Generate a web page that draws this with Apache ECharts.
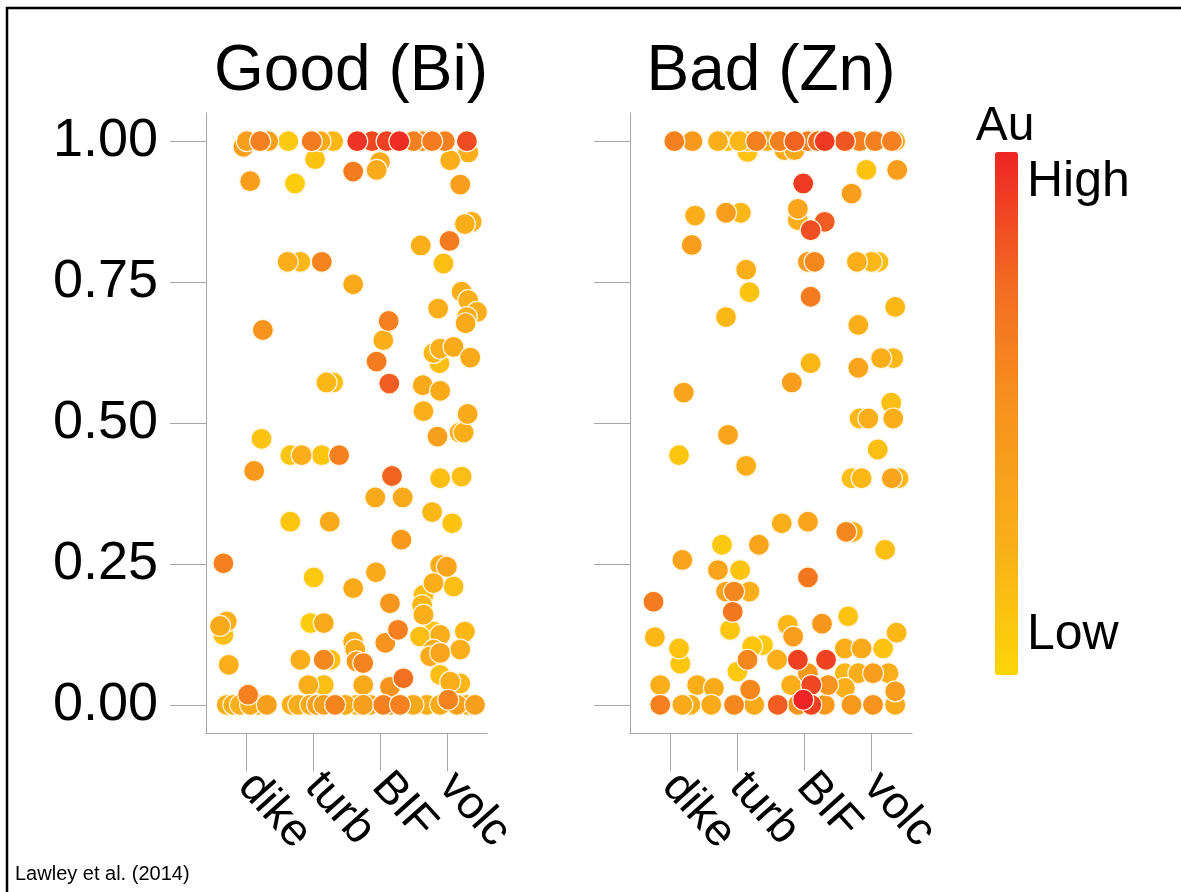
<!DOCTYPE html>
<html>
<head>
<meta charset="utf-8">
<script src="https://cdn.jsdelivr.net/npm/echarts@6/dist/echarts.min.js"></script>
<style>
html,body{margin:0;padding:0;background:#fff;}
#chart{width:1181px;height:892px;}
</style>
</head>
<body>
<div id="chart"></div>
<script>
// Categories (x positions 1..4 on the jittered strip axis)
var categories = ['dike', 'turb', 'BIF', 'volc'];
var yTicks = [0, 0.25, 0.5, 0.75, 1];
var panelTitles = ['Good (Bi)', 'Bad (Zn)'];

// Good (Bi) panel: [position on category axis (with jitter), ratio, Au level]
var goodBi = [
  [0.96,0.99,0.4],[1.01,1.0,0.4],[1.21,1.0,0.62],[1.33,1.0,0.4],[1.63,1.0,0.08],[1.98,1.0,0.65],
  [2.11,1.0,0.3],[2.30,1.0,0.2],[2.66,1.0,0.95],[2.88,1.0,0.88],[3.10,1.0,0.9],[3.29,1.0,0.97],
  [3.50,1.0,0.62],[3.63,1.0,0.5],[3.78,1.0,0.65],[3.97,1.0,0.62],[4.30,1.0,0.86],
  [4.32,0.98,0.25],[4.05,0.966,0.25],[3.0,0.963,0.3],[2.95,0.949,0.3],[2.60,0.946,0.65],
  [2.03,0.968,0.12],[1.06,0.929,0.42],[1.73,0.925,0.05],[4.20,0.923,0.42],
  [4.37,0.857,0.25],[4.27,0.853,0.25],[4.04,0.823,0.65],[3.61,0.815,0.25],[3.95,0.783,0.15],
  [1.62,0.786,0.25],[1.81,0.786,0.2],[2.13,0.786,0.6],[2.60,0.746,0.3],
  [4.22,0.733,0.25],[4.32,0.718,0.25],[4.45,0.697,0.25],[3.87,0.703,0.25],[4.30,0.688,0.25],
  [4.28,0.677,0.3],[3.13,0.681,0.62],[3.05,0.647,0.25],[1.25,0.665,0.5],[2.95,0.609,0.65],
  [3.14,0.570,0.8],[3.80,0.624,0.2],[3.90,0.632,0.25],[4.10,0.635,0.3],[4.35,0.616,0.3],
  [3.89,0.606,0.15],[2.20,0.572,0.2],[2.30,0.572,0.15],[3.64,0.567,0.3],[3.90,0.557,0.3],
  [3.65,0.521,0.25],[4.31,0.516,0.3],[3.86,0.476,0.4],[4.19,0.483,0.25],[4.25,0.483,0.25],
  [1.23,0.472,0.12],[1.12,0.415,0.45],[1.66,0.443,0.1],[1.83,0.443,0.25],[2.13,0.443,0.1],
  [2.39,0.443,0.62],[3.18,0.406,0.78],[2.93,0.368,0.3],[3.34,0.368,0.3],[3.90,0.402,0.15],
  [4.22,0.405,0.15],[3.78,0.342,0.2],[4.08,0.322,0.12],[1.66,0.325,0.1],[2.25,0.325,0.3],
  [3.32,0.293,0.45],[0.66,0.251,0.62],[2.01,0.226,0.08],[2.94,0.235,0.3],[2.60,0.207,0.3],
  [3.15,0.180,0.48],[3.27,0.133,0.62],[3.08,0.110,0.5],[3.90,0.248,0.25],[4.00,0.245,0.35],
  [3.80,0.216,0.25],[4.10,0.210,0.15],[3.65,0.195,0.15],[3.63,0.177,0.2],[3.65,0.160,0.25],
  [3.60,0.121,0.15],[3.80,0.130,0.12],[3.90,0.124,0.25],[4.27,0.130,0.2],[3.80,0.098,0.25],
  [4.20,0.098,0.25],[3.75,0.086,0.3],[3.90,0.092,0.35],[3.90,0.053,0.15],[4.05,0.041,0.25],
  [4.20,0.038,0.2],[0.71,0.148,0.25],[0.61,0.140,0.3],[0.66,0.124,0.15],[0.74,0.071,0.25],
  [1.96,0.145,0.05],[2.16,0.145,0.3],[1.81,0.080,0.25],[2.16,0.080,0.58],[2.26,0.080,0.15],
  [1.93,0.035,0.25],[2.16,0.035,0.15],[2.60,0.112,0.25],[2.63,0.098,0.3],[2.65,0.077,0.45],
  [2.75,0.074,0.6],[2.75,0.035,0.3],[3.15,0.032,0.5],[3.35,0.047,0.72],[1.03,0.018,0.62],
  [0.71,0.0,0.25],[0.81,0.0,0.25],[0.91,0.0,0.25],[1.06,0.0,0.3],[1.18,0.0,0.25],[1.31,0.0,0.4],
  [1.68,0.0,0.25],[1.78,0.0,0.25],[1.96,0.0,0.3],[2.06,0.0,0.4],[2.16,0.0,0.4],[2.33,0.0,0.6],
  [2.48,0.0,0.3],[2.65,0.0,0.25],[2.75,0.0,0.4],[2.85,0.0,0.3],[3.05,0.0,0.62],[3.15,0.0,0.45],
  [3.30,0.0,0.62],[3.50,0.0,0.3],[3.70,0.0,0.25],[3.90,0.0,0.3],[4.02,0.009,0.6],[4.15,0.0,0.4],
  [4.30,0.0,0.25],[4.42,0.0,0.4]
];

// Bad (Zn) panel: [position on category axis (with jitter), ratio, Au level]
var badZn = [
  [1.06,1.0,0.62],[1.33,1.0,0.45],[1.71,1.0,0.25],[1.85,1.0,0.15],[2.03,1.0,0.2],[2.15,1.0,0.15],
  [2.28,1.0,0.62],[2.44,1.0,0.3],[2.63,1.0,0.62],[2.85,1.0,0.78],[3.05,1.0,0.62],[3.20,1.0,0.75],
  [3.30,1.0,0.93],[3.60,1.0,0.82],[3.82,1.0,0.62],[4.05,1.0,0.62],[4.30,1.0,0.62],[4.35,1.0,0.3],
  [2.15,0.981,0.12],[2.70,0.984,0.3],[2.85,0.984,0.3],[3.92,0.949,0.12],[4.38,0.949,0.42],
  [2.98,0.925,0.92],[3.70,0.907,0.42],[1.37,0.868,0.25],[1.83,0.873,0.42],[2.05,0.873,0.2],
  [2.90,0.880,0.35],[2.90,0.860,0.25],[3.30,0.857,0.8],[3.09,0.842,0.85],[1.32,0.816,0.42],
  [3.05,0.786,0.45],[3.15,0.786,0.58],[3.78,0.786,0.25],[4.00,0.786,0.2],[4.10,0.786,0.15],
  [2.13,0.772,0.25],[2.18,0.732,0.12],[3.09,0.724,0.65],[4.35,0.706,0.2],[1.83,0.688,0.2],
  [3.80,0.674,0.25],[3.09,0.606,0.2],[2.81,0.572,0.42],[3.80,0.598,0.35],[4.14,0.615,0.25],
  [4.32,0.615,0.2],[1.20,0.554,0.35],[4.29,0.536,0.15],[3.82,0.508,0.2],[3.95,0.508,0.25],
  [4.32,0.508,0.25],[1.86,0.479,0.35],[1.13,0.443,0.1],[2.13,0.424,0.25],[4.09,0.453,0.15],
  [3.70,0.402,0.15],[3.85,0.402,0.2],[4.30,0.402,0.35],[4.40,0.402,0.2],[2.66,0.322,0.25],
  [3.05,0.325,0.35],[3.62,0.307,0.58],[3.72,0.307,0.25],[4.20,0.275,0.15],[1.77,0.284,0.08],
  [2.32,0.284,0.35],[1.18,0.257,0.35],[1.71,0.239,0.35],[2.04,0.239,0.12],[3.05,0.226,0.68],
  [0.75,0.183,0.65],[1.83,0.201,0.35],[1.95,0.201,0.58],[2.18,0.201,0.25],[1.93,0.165,0.68],
  [1.89,0.133,0.1],[0.77,0.120,0.2],[1.13,0.100,0.12],[1.15,0.073,0.1],[2.00,0.059,0.08],
  [2.22,0.104,0.1],[2.38,0.106,0.08],[2.15,0.080,0.58],[2.59,0.080,0.25],[2.75,0.142,0.2],
  [2.83,0.121,0.42],[3.26,0.144,0.48],[3.65,0.157,0.12],[4.37,0.128,0.2],[4.17,0.100,0.12],
  [2.90,0.080,0.9],[3.32,0.080,0.9],[3.10,0.035,0.88],[3.35,0.035,0.5],[2.80,0.035,0.25],
  [3.05,0.056,0.45],[3.60,0.100,0.25],[3.85,0.100,0.3],[3.60,0.056,0.2],[3.80,0.056,0.25],
  [4.02,0.056,0.42],[4.25,0.056,0.25],[3.60,0.030,0.25],[4.35,0.024,0.42],[0.85,0.035,0.25],
  [1.40,0.035,0.25],[1.65,0.030,0.3],[2.19,0.027,0.58],
  [0.85,0.0,0.62],[1.18,0.0,0.3],[1.30,0.0,0.25],[1.61,0.0,0.3],[1.95,0.0,0.58],[2.25,0.0,0.3],
  [2.60,0.0,0.8],[2.90,0.0,0.5],[3.10,0.0,0.9],[3.30,0.0,0.45],[3.70,0.0,0.45],[4.02,0.0,0.5],
  [4.35,0.0,0.3],[2.98,0.009,1.0]
];

function byAu(a, b) { return a[2] - b[2]; }
var goodSorted = goodBi.slice().sort(byAu);
var badSorted = badZn.slice().sort(byAu);

var chart = echarts.init(document.getElementById('chart'), null, {renderer: 'canvas'});
var FONT = 'Liberation Sans, Arial, Helvetica, sans-serif';
var gridGray = '#a6a6a6';

function xAxis(gi) {
  return {
    type: 'value', gridIndex: gi, min: 0.4, max: 4.6,
    axisLine: {show: true, onZero: false, lineStyle: {color: gridGray, width: 1}},
    axisTick: {show: true, length: 38, customValues: [1, 2, 3, 4], lineStyle: {color: gridGray}},
    axisLabel: {
      customValues: [1, 2, 3, 4], rotate: -48, margin: 46,
      fontSize: 46, color: '#000', fontFamily: FONT,
      formatter: function (v) { return categories[Math.round(v) - 1]; }
    },
    splitLine: {show: false}
  };
}
function yAxis(gi, labels) {
  return {
    type: 'value', gridIndex: gi, min: -0.05, max: 1.05,
    axisLine: {show: true, onZero: false, lineStyle: {color: gridGray, width: 1}},
    axisTick: {show: true, length: 36, customValues: yTicks, lineStyle: {color: gridGray}},
    axisLabel: {
      show: labels, customValues: yTicks, margin: 48, fontSize: 54, color: '#000', fontFamily: FONT,
      formatter: function (v) { return v.toFixed(2); }
    },
    splitLine: {show: false}
  };
}
function scatter(gi, data) {
  return {
    type: 'scatter', xAxisIndex: gi, yAxisIndex: gi, data: data,
    symbol: 'circle', symbolSize: 21,
    itemStyle: {borderColor: '#fff6e0', borderWidth: 1.2, opacity: 1},
    emphasis: {disabled: true}, animation: false
  };
}

chart.setOption({
  animation: false,
  backgroundColor: '#fff',
  grid: [
    {left: 206, top: 113, width: 281, height: 620},
    {left: 630, top: 113, width: 282, height: 620}
  ],
  xAxis: [xAxis(0), xAxis(1)],
  yAxis: [yAxis(0, true), yAxis(1, false)],
  visualMap: {
    type: 'continuous', min: 0, max: 1, dimension: 2, seriesIndex: [0, 1],
    orient: 'vertical', left: 995, top: 152, itemWidth: 23, itemHeight: 523,
    padding: 0, calculable: false, text: null, hoverLink: false,
    inRange: {color: ['#FDD508', '#FAAF1A', '#F7941D', '#F26B22', '#EE2524']}
  },
  series: [scatter(0, goodSorted), scatter(1, badSorted)],
  graphic: [
    {type: 'rect', shape: {x: 7, y: 8, width: 1400, height: 1200}, style: {fill: 'none', stroke: '#000', lineWidth: 2.5}, silent: true},
    {type: 'text', x: 351, y: 72, style: {text: panelTitles[0], font: '64px ' + FONT, fill: '#000', textAlign: 'center', textVerticalAlign: 'middle'}},
    {type: 'text', x: 771, y: 72, style: {text: panelTitles[1], font: '64px ' + FONT, fill: '#000', textAlign: 'center', textVerticalAlign: 'middle'}},
    {type: 'text', x: 1005, y: 127, style: {text: 'Au', font: '48px ' + FONT, fill: '#000', textAlign: 'center', textVerticalAlign: 'middle'}},
    {type: 'text', x: 1027, y: 182, style: {text: 'High', font: '50px ' + FONT, fill: '#000', textAlign: 'left', textVerticalAlign: 'middle'}},
    {type: 'text', x: 1027, y: 635, style: {text: 'Low', font: '50px ' + FONT, fill: '#000', textAlign: 'left', textVerticalAlign: 'middle'}},
    {type: 'text', x: 15, y: 874, style: {text: 'Lawley et al. (2014)', font: '20px ' + FONT, fill: '#000', textAlign: 'left', textVerticalAlign: 'middle'}}
  ]
});
</script>
</body>
</html>
